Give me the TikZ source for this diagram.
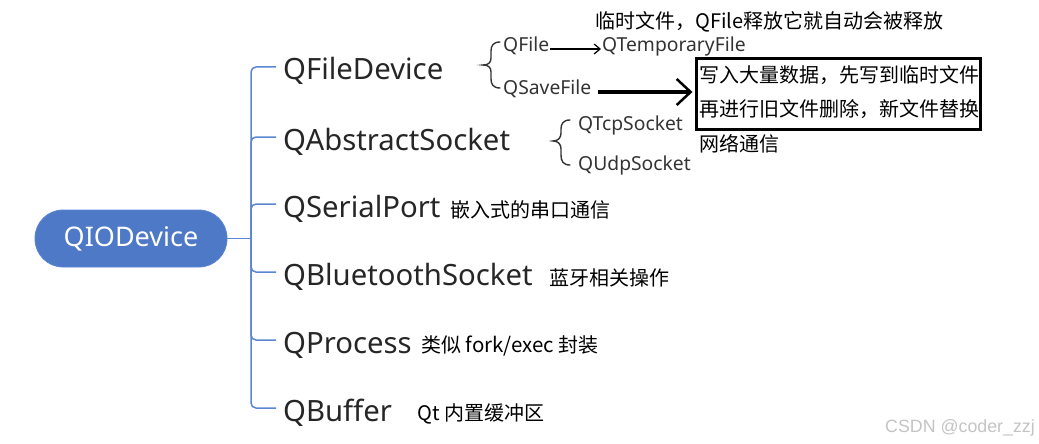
\documentclass[tikz,border=0pt]{standalone}
\usepackage{fontspec}
\setmainfont{Noto Sans}
\newfontfamily\cjk{Noto Sans CJK SC}
\newfontfamily\wmfont{Liberation Sans}
\usetikzlibrary{arrows.meta}
\definecolor{rootblue}{HTML}{4E79C6}
\definecolor{linkblue}{HTML}{5B86D4}
\definecolor{maintext}{HTML}{262626}
\definecolor{subtext}{HTML}{333333}
\definecolor{wmgray}{HTML}{C4C4C4}
\tikzset{
  rootbox/.style={fill=rootblue, draw=linkblue, line width=0.8pt, rounded corners=28pt,
    minimum width=192pt, minimum height=57pt, inner sep=0pt, text=white,
    font=\fontsize{27}{29}\selectfont},
  mainlbl/.style={anchor=base west, inner sep=0pt, text=maintext,
    font=\fontsize{29.3}{31}\selectfont},
  sublbl/.style={anchor=base west, inner sep=0pt, text=subtext, text height=0.8em, text depth=0.2em,
    font=\fontsize{19.3}{21}\selectfont},
  notelbl/.style={anchor=base west, inner sep=0pt, text=black,
    font=\cjk\fontsize{20}{22}\selectfont},
  branch/.style={draw=linkblue, line width=1.5pt, rounded corners=5pt},
  bracestyle/.style={draw=subtext, line width=1.4pt, line cap=round},
  thinarrow/.style={draw=black, line width=1.2pt, -{Straight Barb[length=6pt,width=10pt]}},
  thickarrow/.style={draw=black, line width=3pt, -{Straight Barb[length=14pt,width=26pt,line width=2.5pt]}},
  notebox/.style={draw=black, line width=3pt, minimum width=284pt, minimum height=70pt, inner sep=0pt}
}
\begin{document}
\begin{tikzpicture}[x=1pt,y=-1pt]
\useasboundingbox (0,0) rectangle (1039,444);
% root
\node[rootbox] (root) at (131,238.5) {QIODevice};
\coordinate (j) at (251,238.5);
\draw[branch] (root.east) -- (j);
% branch end points
\coordinate (b1) at (276,67);
\coordinate (b2) at (276,137);
\coordinate (b3) at (276,204);
\coordinate (b4) at (276,272);
\coordinate (b5) at (276,340);
\coordinate (b6) at (276,408);
\foreach \b in {b1,b2,b3,b4,b5,b6} { \draw[branch] (j) |- (\b); }
% main labels
\node[mainlbl] (fdev) at (283,80) {QFileDevice};
\node[mainlbl] (asock) at (283,150) {QAbstractSocket};
\node[mainlbl] (sport) at (283,217) {QSerialPort};
\node[mainlbl] (bsock) at (283,285) {QBluetoothSocket};
\node[mainlbl] (proc) at (283,353) {QProcess};
\node[mainlbl] (buf) at (283,421) {QBuffer};
% notes for main labels
\node[notelbl] (n3) at (450,217) {嵌入式的串口通信};
\node[notelbl] (n4) at (549,285) {蓝牙相关操作};
\node[notelbl] (n5) at (421,352) {类似 {\fontsize{20.5}{22}\selectfont fork/exec} 封装};
\node[notelbl] (n6) at (417,420) {Qt 内置缓冲区};
% QFileDevice children
\draw[bracestyle] (500,42) .. controls (493,42) and (491,46) .. (491,51) -- (491,58)
  .. controls (491,63) and (488,65) .. (483,65) .. controls (488,65) and (491,67) .. (491,72)
  -- (491,79) .. controls (491,84) and (493,88) .. (500,88);
\node[sublbl] (qfile) at (503,52) {QFile};
\node[sublbl] (qtemp) at (602,52) {QTemporaryFile};
\node[sublbl] (qsave) at (503,95) {QSaveFile};
\node[notelbl] (ntop) at (595,29) {临时文件，QFile释放它就自动会被释放};
\draw[thinarrow, shorten <=1pt, shorten >=1pt] (qfile.east) -- (qtemp.west);
% note box
\node[notebox] (box) at (838,94) {};
\node[notelbl] (bl1) at (699,83) {写入大量数据，先写到临时文件};
\node[notelbl] (bl2) at (699,117) {再进行旧文件删除，新文件替换};
\draw[thickarrow, shorten <=7pt, shorten >=2pt] (qsave.east) -- (qsave.east -| box.west);
% QAbstractSocket children
\draw[bracestyle] (570,120) .. controls (563,120) and (561,124) .. (561,129) -- (561,133)
  .. controls (561,138) and (558,141) .. (553,141) .. controls (558,141) and (561,144) .. (561,149)
  -- (561,155) .. controls (561,161) and (563,165) .. (570,165);
\node[sublbl] (tcp) at (578,130) {QTcpSocket};
\node[sublbl] (udp) at (578,170) {QUdpSocket};
\node[notelbl] (net) at (699,151) {网络通信};
% watermark
\node[anchor=base west, inner sep=0pt, text=wmgray, font=\wmfont\fontsize{17.8}{19}\selectfont] (wm) at (885,432) {CSDN @coder\_zzj};
\end{tikzpicture}
\end{document}
